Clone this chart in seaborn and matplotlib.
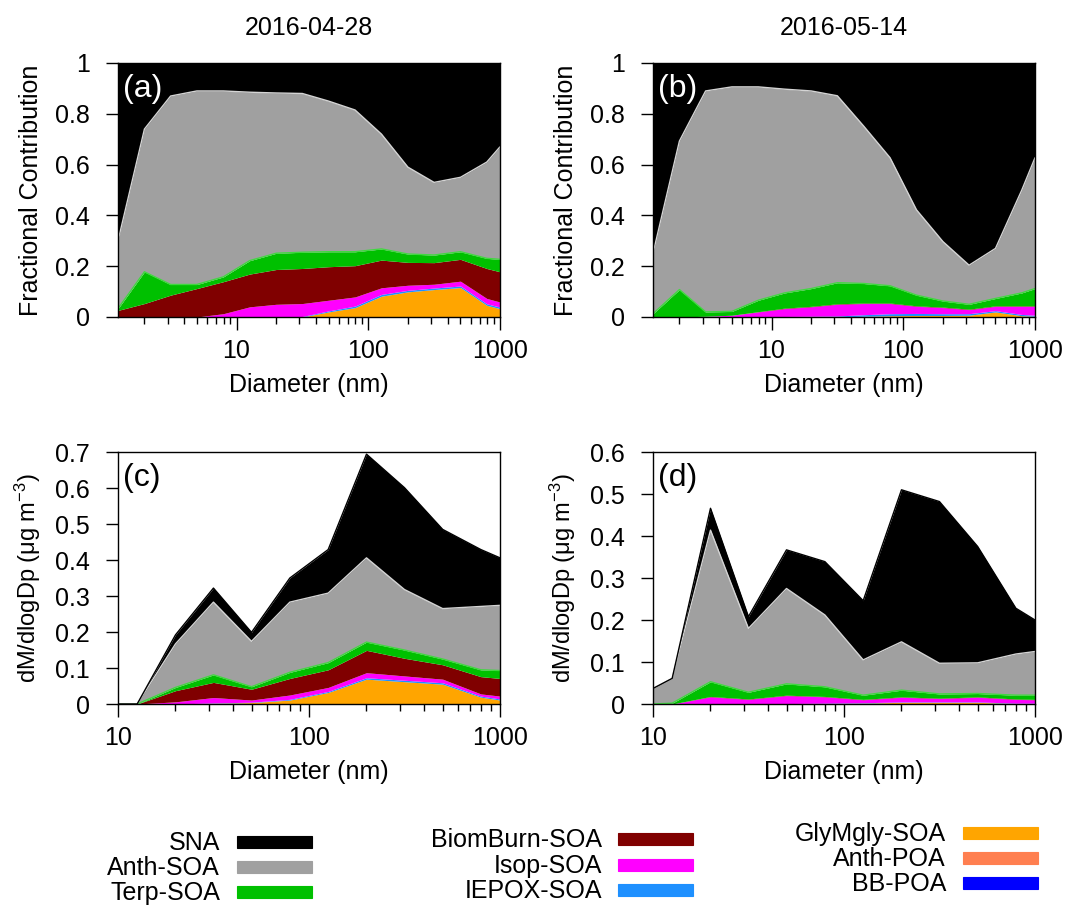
import matplotlib
matplotlib.use("Agg")
import matplotlib.pyplot as plt
import matplotlib.ticker as mticker
from matplotlib.patches import Rectangle
import numpy as np
import seaborn as sns

# --------------------------
# Data
# --------------------------
diam_frac = [1.26, 2, 3.16, 5, 7.94, 12.6, 20, 31.6, 50, 79.4, 126, 200, 316, 501, 794, 1000]
diam_mass = [10, 12.6, 20, 31.6, 50, 79.4, 126, 200, 316, 501, 794, 1000]

# (a) 2016-04-28, fractional contribution
sna_a = [0.70, 0.26, 0.13, 0.11, 0.11, 0.115, 0.118, 0.12, 0.15, 0.185, 0.28, 0.41, 0.47, 0.45, 0.39, 0.33]
anth_soa_a = [0.267, 0.562, 0.742, 0.762, 0.732, 0.663, 0.631, 0.625, 0.593, 0.558, 0.452, 0.342, 0.286, 0.293, 0.379, 0.443]
terp_a = [0.007, 0.125, 0.042, 0.016, 0.019, 0.053, 0.064, 0.064, 0.059, 0.055, 0.044, 0.033, 0.030, 0.030, 0.040, 0.049]
biom_a = [0.026, 0.053, 0.086, 0.112, 0.126, 0.129, 0.137, 0.138, 0.132, 0.123, 0.109, 0.090, 0.085, 0.086, 0.118, 0.119]
isop_a = [0, 0, 0, 0, 0.013, 0.040, 0.050, 0.051, 0.042, 0.036, 0.026, 0.020, 0.015, 0.019, 0.021, 0.020]
iepox_a = [0, 0, 0, 0, 0, 0, 0, 0.002, 0.004, 0.006, 0.007, 0.006, 0.006, 0.006, 0.006, 0.006]
gly_a = [0, 0, 0, 0, 0, 0, 0, 0, 0.020, 0.037, 0.082, 0.099, 0.108, 0.116, 0.046, 0.033]
anth_poa_a = [0, 0, 0, 0, 0, 0, 0, 0, 0, 0, 0, 0, 0, 0, 0, 0]
bb_poa_a = [0, 0, 0, 0, 0, 0, 0, 0, 0, 0, 0, 0, 0, 0, 0, 0]

# (b) 2016-05-14, fractional contribution
sna_b = [0.749, 0.307, 0.110, 0.094, 0.094, 0.103, 0.110, 0.129, 0.248, 0.373, 0.578, 0.703, 0.796, 0.730, 0.50, 0.373]
anth_soa_b = [0.238, 0.585, 0.870, 0.884, 0.840, 0.802, 0.778, 0.736, 0.620, 0.504, 0.336, 0.234, 0.154, 0.197, 0.405, 0.515]
terp_b = [0.013, 0.108, 0.017, 0.015, 0.045, 0.060, 0.070, 0.083, 0.077, 0.068, 0.042, 0.024, 0.019, 0.029, 0.051, 0.068]
biom_b = [0, 0, 0, 0, 0.001, 0.002, 0.002, 0.002, 0.002, 0.002, 0.002, 0.002, 0.002, 0.002, 0.002, 0.002]
isop_b = [0, 0, 0.003, 0.007, 0.020, 0.031, 0.037, 0.046, 0.044, 0.040, 0.028, 0.024, 0.016, 0.017, 0.032, 0.035]
iepox_b = [0, 0, 0, 0, 0, 0.002, 0.003, 0.004, 0.006, 0.008, 0.008, 0.007, 0.006, 0.005, 0.005, 0.004]
gly_b = [0, 0, 0, 0, 0, 0, 0, 0, 0.003, 0.005, 0.006, 0.006, 0.007, 0.020, 0.005, 0.003]
anth_poa_b = [0, 0, 0, 0, 0, 0, 0, 0, 0, 0, 0, 0, 0, 0, 0, 0]
bb_poa_b = [0, 0, 0, 0, 0, 0, 0, 0, 0, 0, 0, 0, 0, 0, 0, 0]

# (c) 2016-04-28, dM/dlogDp
sna_c = [0, 0, 0.025, 0.039, 0.025, 0.067, 0.121, 0.288, 0.283, 0.220, 0.158, 0.132]
anth_soa_c = [0, 0, 0.121, 0.202, 0.126, 0.195, 0.193, 0.234, 0.168, 0.140, 0.176, 0.181]
terp_c = [0, 0, 0.009, 0.021, 0.007, 0.017, 0.020, 0.023, 0.023, 0.016, 0.019, 0.022]
biom_c = [0, 0, 0.031, 0.042, 0.030, 0.046, 0.049, 0.062, 0.049, 0.040, 0.048, 0.049]
isop_c = [0, 0, 0.006, 0.015, 0.006, 0.012, 0.011, 0.014, 0.012, 0.010, 0.006, 0.008]
iepox_c = [0, 0, 0, 0.001, 0.001, 0.002, 0.003, 0.004, 0.004, 0.004, 0.003, 0.003]
gly_c = [0, 0, 0, 0.002, 0.004, 0.011, 0.032, 0.069, 0.062, 0.055, 0.019, 0.011]
anth_poa_c = [0, 0, 0, 0, 0, 0, 0, 0, 0, 0, 0, 0]
bb_poa_c = [0, 0, 0, 0, 0, 0, 0, 0, 0, 0, 0, 0]

# (d) 2016-05-14, dM/dlogDp
sna_d = [0, 0, 0.052, 0.028, 0.092, 0.127, 0.141, 0.362, 0.385, 0.277, 0.109, 0.075]
anth_soa_d = [0.037, 0.059, 0.361, 0.152, 0.227, 0.171, 0.084, 0.115, 0.073, 0.073, 0.098, 0.104]
terp_d = [0, 0.002, 0.035, 0.016, 0.027, 0.023, 0.010, 0.016, 0.010, 0.008, 0.009, 0.010]
biom_d = [0, 0, 0.001, 0.001, 0.001, 0.001, 0.001, 0.001, 0.001, 0.001, 0.001, 0.001]
isop_d = [0, 0, 0.016, 0.010, 0.019, 0.015, 0.007, 0.011, 0.008, 0.011, 0.009, 0.008]
iepox_d = [0, 0, 0.001, 0.001, 0.001, 0.001, 0.001, 0.001, 0.001, 0.001, 0.001, 0.001]
gly_d = [0, 0, 0, 0, 0, 0.001, 0.002, 0.004, 0.004, 0.004, 0.001, 0.001]
anth_poa_d = [0, 0, 0, 0, 0, 0, 0, 0, 0, 0, 0, 0]
bb_poa_d = [0, 0, 0, 0, 0, 0, 0, 0, 0, 0, 0, 0]

dates = ["2016-04-28", "2016-05-14"]

# species from top of the stack to the bottom (legend order)
species = ["SNA", "Anth-SOA", "Terp-SOA", "BiomBurn-SOA", "Isop-SOA",
           "IEPOX-SOA", "GlyMgly-SOA", "Anth-POA", "BB-POA"]
palette = {"SNA": "#000000", "Anth-SOA": "#a0a0a0", "Terp-SOA": "#00c000",
           "BiomBurn-SOA": "#800000", "Isop-SOA": "#ff00ff", "IEPOX-SOA": "#1e90ff",
           "GlyMgly-SOA": "#ffa500", "Anth-POA": "#ff7f50", "BB-POA": "#0000ff"}
edge_light = {"SNA": "#000000", "Anth-SOA": "#d4d4d4", "Terp-SOA": "#40d840"}

panel_data = {
    "a": [sna_a, anth_soa_a, terp_a, biom_a, isop_a, iepox_a, gly_a, anth_poa_a, bb_poa_a],
    "b": [sna_b, anth_soa_b, terp_b, biom_b, isop_b, iepox_b, gly_b, anth_poa_b, bb_poa_b],
    "c": [sna_c, anth_soa_c, terp_c, biom_c, isop_c, iepox_c, gly_c, anth_poa_c, bb_poa_c],
    "d": [sna_d, anth_soa_d, terp_d, biom_d, isop_d, iepox_d, gly_d, anth_poa_d, bb_poa_d],
}

# --------------------------
# Style
# --------------------------
sns.set_style("ticks")
plt.rcParams["font.family"] = ["Liberation Sans", "DejaVu Sans"]
plt.rcParams["mathtext.fontset"] = "custom"
plt.rcParams["mathtext.rm"] = "Liberation Sans"
plt.rcParams["mathtext.default"] = "regular"
for key in ["text.color", "axes.labelcolor", "xtick.color", "ytick.color", "axes.edgecolor"]:
    plt.rcParams[key] = "black"

W, H = 1069, 905
fig = plt.figure(figsize=(W / 100, H / 100), dpi=100)


def px_rect(left, top, right, bottom):
    return [left / W, 1 - bottom / H, (right - left) / W, (bottom - top) / H]


axes = {
    "a": fig.add_axes(px_rect(118, 63, 500, 317)),
    "b": fig.add_axes(px_rect(653, 63, 1035, 317)),
    "c": fig.add_axes(px_rect(118, 452, 500, 704)),
    "d": fig.add_axes(px_rect(653, 452, 1035, 704)),
}

fmt = mticker.FuncFormatter(lambda v, p: f"{v:g}")


def draw_panel(ax, key, x, ymax, ystep, ylabel, ylabel_size, tag_color):
    layers = panel_data[key]
    # stack from the bottom (BB-POA) up to SNA
    bottom_up = layers[::-1]
    names_up = species[::-1]
    ax.stackplot(x, bottom_up, colors=[palette[n] for n in names_up], linewidth=0)
    tops = np.cumsum(np.array(bottom_up, dtype=float), axis=0)
    for name, top in zip(names_up, tops):
        if name in edge_light:
            sns.lineplot(x=x, y=top, color=edge_light[name], lw=1.0, ax=ax)

    ax.set_xscale("log")
    ax.set_xlim(x[0], 1000)
    ax.set_ylim(0, ymax)
    ax.set_yticks(np.arange(0, ymax + ystep / 2, ystep))
    ax.xaxis.set_major_formatter(fmt)
    ax.xaxis.set_minor_formatter(mticker.NullFormatter())
    ax.yaxis.set_major_formatter(fmt)
    ax.tick_params(which="major", direction="out", length=9, width=1, labelsize=18)
    ax.tick_params(which="minor", direction="out", length=5, width=1)
    ax.tick_params(axis="x", pad=7)
    ax.tick_params(axis="y", pad=11)
    for s in ax.spines.values():
        s.set_linewidth(1.0)
        s.set_color("black")
    ax.set_xlabel("Diameter (nm)", fontsize=18, labelpad=7)
    ax.set_ylabel(ylabel, fontsize=ylabel_size, labelpad=9)
    ax.text(0.012, 0.955, f"({key})", transform=ax.transAxes, ha="left", va="top",
            fontsize=23, color=tag_color)


draw_panel(axes["a"], "a", diam_frac, 1.0, 0.2, "Fractional Contribution", 18, "white")
draw_panel(axes["b"], "b", diam_frac, 1.0, 0.2, "Fractional Contribution", 18, "white")
draw_panel(axes["c"], "c", diam_mass, 0.7, 0.1, "dM/dlogDp (\u03bcg m$^{-3}$)", 17, "black")
draw_panel(axes["d"], "d", diam_mass, 0.6, 0.1, "dM/dlogDp (\u03bcg m$^{-3}$)", 17, "black")

axes["a"].set_title(dates[0], fontsize=18, pad=20)
axes["b"].set_title(dates[1], fontsize=18, pad=20)

# --------------------------
# Legend: three columns, label on the left of a wide swatch
# --------------------------
legend_cols = [
    (species[0:3], 220, 237, [842, 867, 892]),
    (species[3:6], 602, 618, [839, 865, 890]),
    (species[6:9], 946, 963, [833, 858, 883]),
]
sw_w, sw_h = 75, 12
for names, text_right, sw_left, rows in legend_cols:
    for name, ry in zip(names, rows):
        fig.text(text_right / W, 1 - (ry + 8) / H, name, ha="right", va="baseline", fontsize=18)
        fig.add_artist(Rectangle((sw_left / W, 1 - (ry + sw_h / 2) / H), sw_w / W, sw_h / H,
                                 transform=fig.transFigure, facecolor=palette[name],
                                 edgecolor=palette[name], lw=0.8))

fig.savefig("out.png", dpi=100)
